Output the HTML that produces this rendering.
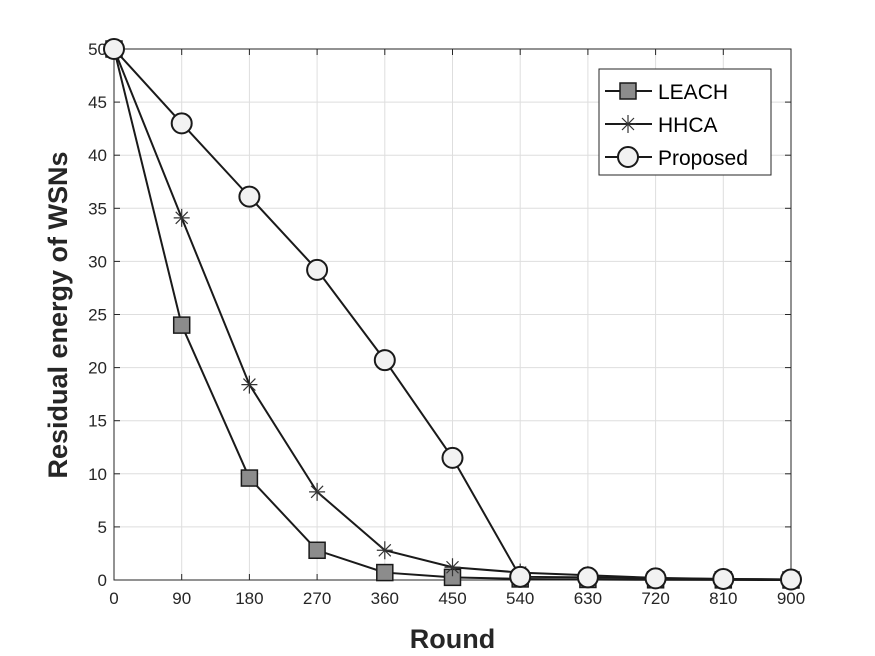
<!DOCTYPE html>
<html><head><meta charset="utf-8"><style>body{margin:0;background:#fff}svg{display:block}</style></head>
<body>
<svg id="chart" width="875" height="656" xmlns="http://www.w3.org/2000/svg" font-family="Liberation Sans, sans-serif">
<rect width="875" height="656" fill="#fff"/>
<g id="grid"></g><g id="axes"></g><g id="series"></g><g id="legend"></g>
</svg>
<script>
const rounds=[0,90,180,270,360,450,540,630,720,810,900];
const leach=[50,24,9.6,2.8,0.7,0.25,0.1,0.05,0.02,0.01,0];
const hhca=[50,34.1,18.4,8.3,2.8,1.2,0.7,0.45,0.2,0.1,0.05];
const proposed=[50,43,36.1,29.2,20.7,11.5,0.3,0.25,0.15,0.1,0.05];
const yTicks=[0,5,10,15,20,25,30,35,40,45,50];
const NS='http://www.w3.org/2000/svg';
const L=114,R=791,T=49,B=580;
const xs=v=>L+(v/900)*(R-L), ys=v=>B-(v/50)*(B-T);
function mk(tag,attrs,parent,text){const e=document.createElementNS(NS,tag);for(const k in attrs)e.setAttribute(k,attrs[k]);if(text!==undefined)e.textContent=text;parent.appendChild(e);return e;}
const grid=document.getElementById('grid'),axes=document.getElementById('axes'),ser=document.getElementById('series'),leg=document.getElementById('legend');
mk('rect',{x:L,y:T,width:R-L,height:B-T,fill:'#fff'},grid);
rounds.forEach(r=>{const l=mk('line',{x1:xs(r),x2:xs(r),y1:T,y2:B,stroke:'#dedede','stroke-width':1},grid);

const t=mk('text',{x:xs(r),y:B+24,'text-anchor':'middle','font-size':17,fill:'#262626'},axes,String(r));

mk('line',{x1:xs(r),x2:xs(r),y1:B,y2:B-6,stroke:'#262626'},axes);mk('line',{x1:xs(r),x2:xs(r),y1:T,y2:T+6,stroke:'#262626'},axes);});
yTicks.forEach(v=>{const l=mk('line',{x1:L,x2:R,y1:ys(v),y2:ys(v),stroke:'#dedede','stroke-width':1},grid);

const t=mk('text',{x:L-7,y:ys(v)+6,'text-anchor':'end','font-size':17,fill:'#262626'},axes,String(v));

mk('line',{x1:L,x2:L+6,y1:ys(v),y2:ys(v),stroke:'#262626'},axes);mk('line',{x1:R,x2:R-6,y1:ys(v),y2:ys(v),stroke:'#262626'},axes);});
mk('rect',{x:L,y:T,width:R-L,height:B-T,fill:'none',stroke:'#262626','stroke-width':1},axes);
const xt=mk('text',{x:(L+R)/2,y:648,'text-anchor':'middle','font-size':27,'font-weight':'bold',fill:'#262626'},axes,'Round');

const yt=mk('text',{x:0,y:0,transform:'translate(67,315) rotate(-90)','text-anchor':'middle','font-size':27,'font-weight':'bold',fill:'#262626'},axes,'Residual energy of WSNs');

function marker(type,x,y,g){
 if(type==='sq')return mk('rect',{x:x-8,y:y-8,width:16,height:16,fill:'#8c8c8c',stroke:'#1a1a1a','stroke-width':1.5},g);
 if(type==='ci')return mk('circle',{cx:x,cy:y,r:10,fill:'#f2f2f2',stroke:'#1a1a1a','stroke-width':2},g);
 const s=mk('g',{stroke:'#333','stroke-width':1.2},g);
 mk('line',{x1:x-8,x2:x+8,y1:y,y2:y},s);mk('line',{x1:x,x2:x,y1:y-9,y2:y+9},s);
 mk('line',{x1:x-6,x2:x+6,y1:y-6,y2:y+6},s);mk('line',{x1:x-6,x2:x+6,y1:y+6,y2:y-6},s);return s;}
const seriesList=[['leach',leach,'sq'],['hhca',hhca,'st'],['proposed',proposed,'ci']];
seriesList.forEach(([n,vals,m])=>{const g=mk('g',{},ser);
 mk('polyline',{points:vals.map((v,i)=>xs(rounds[i])+','+ys(v)).join(' '),fill:'none',stroke:'#1a1a1a','stroke-width':2},g);
 vals.forEach((v,i)=>{const e=marker(m,xs(rounds[i]),ys(v),g);});});

mk('rect',{x:599,y:69,width:172,height:106,fill:'#fff',stroke:'#262626','stroke-width':1},leg);
[['LEACH','sq'],['HHCA','st'],['Proposed','ci']].forEach(([lab,m],i)=>{const y=91+i*33;
 const g=mk('g',{},leg);
 mk('line',{x1:605,x2:652,y1:y,y2:y,stroke:'#1a1a1a','stroke-width':2},g);marker(m,628,y,g);
 mk('text',{x:658,y:y+8,'font-size':21,fill:'#000'},g,lab);});
</script>
</body></html>
